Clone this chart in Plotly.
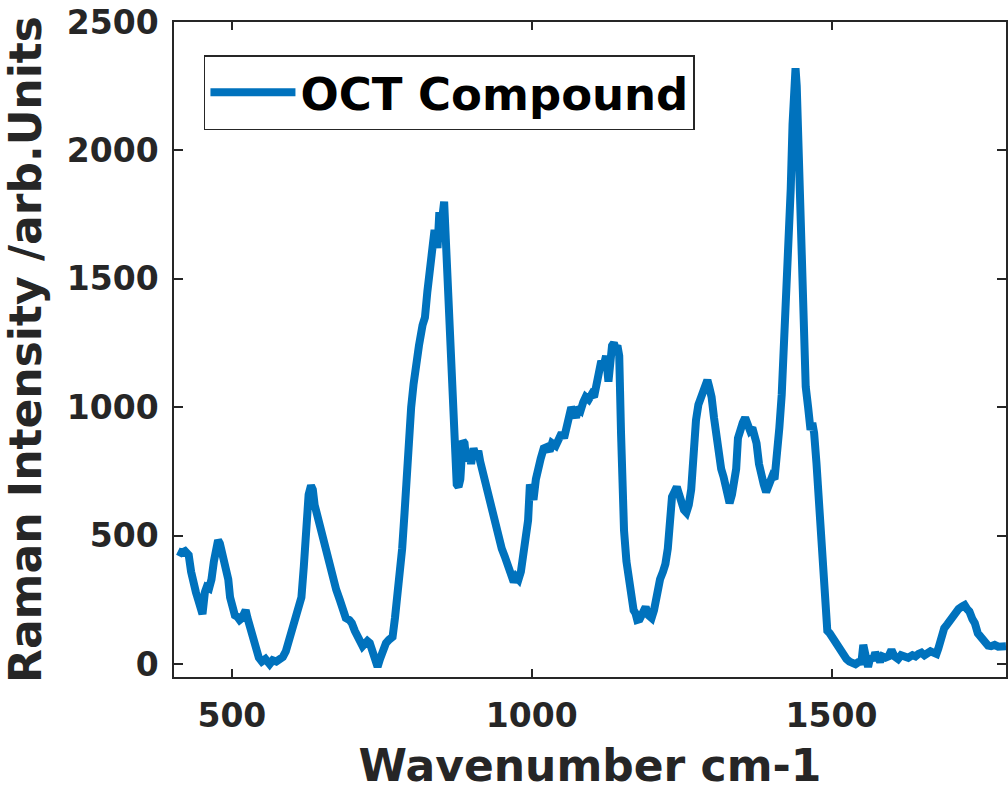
import plotly.graph_objects as go

wavenumber = [410, 416, 422, 428, 432, 436, 440, 444, 448, 451, 455, 458, 462, 466, 470, 474, 477, 480, 483, 487,
              491, 494, 497, 500, 505, 509, 513, 517, 520, 523, 526, 530, 535, 540, 545, 550, 556, 563, 568, 574,
              580, 585, 590, 595, 601, 606, 611, 616, 620, 624, 628, 632, 635, 638, 641, 645, 650, 655, 660, 665,
              669, 674, 680, 685, 690, 696, 700, 705, 710, 714, 718, 722, 726, 730, 735, 740, 743, 747, 752, 757,
              762, 768, 772, 776, 780, 784, 788, 791, 795, 799, 803, 807, 812, 818, 822, 826, 830, 835, 838, 841,
              843, 846, 850, 854, 857, 860, 863, 866, 869, 871, 875, 878, 881, 885, 888, 891, 895, 899, 903, 907,
              911, 914, 918, 922, 926, 930, 935, 940, 945, 950, 955, 960, 965, 970, 974, 978, 982, 986, 990, 994,
              997, 1000, 1003, 1007, 1011, 1015, 1020, 1025, 1030, 1034, 1040, 1045, 1050, 1054, 1058, 1062, 1066, 1070, 1074, 1078,
              1082, 1086, 1090, 1095, 1100, 1104, 1108, 1112, 1116, 1120, 1124, 1128, 1131, 1134, 1137, 1140, 1143, 1146, 1149, 1151,
              1154, 1158, 1162, 1166, 1170, 1173, 1176, 1180, 1185, 1190, 1195, 1200, 1204, 1209, 1214, 1219, 1223, 1227, 1230, 1234,
              1238, 1242, 1246, 1250, 1254, 1258, 1262, 1266, 1270, 1274, 1278, 1282, 1286, 1290, 1293, 1296, 1300, 1304, 1308, 1312,
              1316, 1320, 1324, 1327, 1330, 1334, 1338, 1341, 1344, 1348, 1352, 1356, 1360, 1364, 1368, 1372, 1375, 1379, 1383, 1387,
              1391, 1394, 1397, 1401, 1405, 1409, 1413, 1417, 1421, 1425, 1429, 1432, 1435, 1438, 1440, 1442, 1445, 1448, 1450, 1453,
              1457, 1461, 1465, 1468, 1471, 1475, 1478, 1482, 1486, 1490, 1493, 1497, 1502, 1506, 1510, 1515, 1520, 1525, 1530, 1535,
              1540, 1545, 1550, 1553, 1556, 1559, 1561, 1565, 1569, 1573, 1577, 1581, 1585, 1590, 1595, 1600, 1605, 1611, 1616, 1622,
              1628, 1635, 1640, 1645, 1650, 1655, 1660, 1665, 1670, 1675, 1678, 1683, 1688, 1693, 1700, 1706, 1712, 1718, 1722, 1726,
              1730, 1735, 1739, 1744, 1750, 1756, 1761, 1766, 1772, 1778, 1785, 1791]

intensity = [440, 433, 440, 425, 360, 300, 280, 250, 210, 195, 280, 300, 295, 330, 400, 470, 482, 470, 445, 410,
             360, 330, 260, 215, 190, 185, 172, 180, 195, 210, 180, 145, 110, 60, 25, 10, 20, 0, 15, 10,
             20, 28, 50, 90, 145, 180, 200, 260, 380, 540, 660, 695, 680, 620, 590, 550, 520, 480, 420, 370,
             340, 290, 250, 220, 180, 172, 160, 130, 100, 92, 70, 80, 90, 82, 40, 10, -10, 20, 60, 82,
             95, 106, 180, 260, 330, 450, 590, 750, 850, 1000, 1090, 1180, 1240, 1320, 1350, 1450, 1520, 1640, 1690, 1660,
             1620, 1760, 1720, 1800, 1650, 1480, 1300, 1150, 980, 840, 700, 690, 720, 870, 860, 790, 830, 780, 840, 810,
             830, 790, 750, 720, 680, 640, 580, 530, 480, 450, 420, 390, 370, 320, 340, 330, 360, 420, 480, 560,
             700, 680, 640, 720, 780, 800, 840, 845, 830, 860, 850, 870, 900, 880, 930, 960, 1000, 980, 960, 1000,
             990, 1020, 1040, 1030, 1050, 1040, 1090, 1140, 1180, 1160, 1200, 1100, 1180, 1240, 1250, 1230, 1240, 1200, 900, 700,
             520, 400, 316, 260, 210, 199, 172, 175, 200, 222, 190, 180, 210, 300, 330, 360, 390, 450, 550, 651,
             670, 690, 660, 610, 600, 590, 620, 680, 880, 950, 1010, 1040, 1070, 1100, 1106, 1080, 1040, 960, 880, 822,
             760, 729, 690, 650, 627, 660, 700, 760, 880, 920, 940, 960, 930, 910, 920, 890, 860, 780, 720, 700,
             670, 690, 720, 730, 720, 800, 920, 1050, 1230, 1400, 1600, 1850, 2100, 2300, 2320, 2250, 2000, 1700, 1400, 1157,
             1080, 1000, 912, 939, 900, 780, 666, 520, 340, 180, 130, 120, 100, 94, 70, 45, 30, 20, 10, 5,
             0, 8, 10, 75, 30, 0, -11, 30, 15, 45, 20, 10, 30, 25, 30, 55, 30, 20, 35, 30,
             25, 35, 30, 40, 45, 35, 40, 50, 45, 40, 60, 106, 140, 155, 180, 200, 215, 225, 230, 215,
             205, 175, 160, 120, 100, 80, 72, 70, 75, 68, 72, 70]

x_ticks = [500, 1000, 1500]
y_ticks = [0, 500, 1000, 1500, 2000, 2500]

axis_color = "#262626"
tick_font = dict(family="DejaVu Sans", size=33, color=axis_color, weight="bold")
title_font = dict(family="DejaVu Sans", size=44, color=axis_color, weight="bold")

fig = go.Figure()
fig.add_trace(go.Scatter(
    x=wavenumber, y=intensity, mode="lines", name="OCT Compound",
    line=dict(color="#0072BD", width=8),
))

fig.update_layout(
    width=1008, height=791,
    margin=dict(l=174, r=0, t=22, b=114),
    plot_bgcolor="white", paper_bgcolor="white",
    showlegend=True,
    legend=dict(
        x=0.036, y=0.9496, xanchor="left", yanchor="top",
        bgcolor="white", bordercolor=axis_color, borderwidth=1.5,
        font=dict(family="DejaVu Sans", size=45, color="black", weight="bold"),
        itemwidth=85,
    ),
)
fig.update_xaxes(
    range=[403.5, 1791], tickvals=x_ticks, ticktext=[str(v) for v in x_ticks],
    showgrid=False, zeroline=False,
    showline=True, linecolor=axis_color, linewidth=1.5, mirror="ticks",
    ticks="inside", ticklen=8, tickwidth=1.5, tickcolor=axis_color,
    tickfont=tick_font, ticklabelstandoff=9,
    title=dict(text="Wavenumber cm-1", font=title_font, standoff=20),
)
fig.update_yaxes(
    range=[-50, 2500], tickvals=y_ticks, ticktext=[str(v) for v in y_ticks],
    showgrid=False, zeroline=False,
    showline=True, linecolor=axis_color, linewidth=1.5, mirror="ticks",
    ticks="inside", ticklen=9, tickwidth=1.5, tickcolor=axis_color,
    tickfont=tick_font, ticklabelstandoff=7,
    title=dict(text="Raman Intensity /arb.Units", font=title_font, standoff=14),
)

fig.write_html("out.html")
